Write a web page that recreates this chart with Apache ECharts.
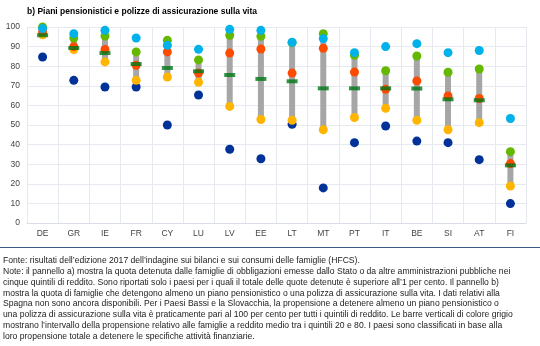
<!DOCTYPE html>
<html><head><meta charset="utf-8">
<script src="https://cdn.jsdelivr.net/npm/echarts@6/dist/echarts.min.js"></script>
<style>html,body{margin:0;padding:0;background:#fff}#c{width:540px;height:346px}</style>
</head><body><div id="c"></div>
<script>
var categories = ['DE','GR','IE','FR','CY','LU','LV','EE','LT','MT','PT','IT','BE','SI','AT','FI'];
var q1 = [84.7, 72.8, 69.4, 69.4, 50.0, 65.3, 37.6, 32.8, 50.4, 17.9, 41.0, 49.5, 41.8, 41.0, 32.3, 9.9];
var q2 = [96.0, 88.5, 82.2, 72.8, 74.5, 71.8, 59.5, 52.8, 52.4, 47.6, 53.8, 58.5, 52.4, 47.6, 51.2, 18.9];
var q3 = [97.5, 90.0, 88.5, 80.5, 87.3, 76.5, 86.7, 88.8, 76.5, 89.1, 77.0, 68.2, 72.5, 64.8, 63.5, 30.3];
var q4 = [100.0, 94.4, 95.4, 87.3, 93.2, 83.2, 95.8, 95.3, 92.0, 96.6, 85.6, 77.7, 85.2, 76.9, 78.6, 36.4];
var q5 = [99.2, 96.6, 98.3, 94.4, 90.7, 88.6, 98.8, 98.3, 92.2, 94.1, 86.9, 90.0, 91.5, 86.9, 88.0, 53.3];
var totale = [95.8, 89.3, 86.7, 81.1, 79.1, 77.4, 75.5, 73.5, 72.3, 68.7, 68.7, 68.7, 68.6, 63.1, 62.6, 29.4];
var yTicks = [0, 10, 20, 30, 40, 50, 60, 70, 80, 90, 100];
var title = 'b) Piani pensionistici e polizze di assicurazione sulla vita';
var notes = [
 "Fonte: risultati dell\u2019edizione 2017 dell\u2019indagine sui bilanci e sui consumi delle famiglie (HFCS).",
 "Note: il pannello a) mostra la quota detenuta dalle famiglie di obbligazioni emesse dallo Stato o da altre amministrazioni pubbliche nei",
 "cinque quintili di reddito. Sono riportati solo i paesi per i quali il totale delle quote detenute \u00e8 superiore all\u20191 per cento. Il pannello b)",
 "mostra la quota di famiglie che detengono almeno un piano pensionistico o una polizza di assicurazione sulla vita. I dati relativi alla",
 "Spagna non sono ancora disponibili. Per i Paesi Bassi e la Slovacchia, la propensione a detenere almeno un piano pensionistico o",
 "una polizza di assicurazione sulla vita \u00e8 praticamente pari al 100 per cento per tutti i quintili di reddito. Le barre verticali di colore grigio",
 "mostrano l\u2019intervallo della propensione relativo alle famiglie a reddito medio tra i quintili 20 e 80. I paesi sono classificati in base alla",
 "loro propensione totale a detenere le specifiche attivit\u00e0 finanziarie."
];

var lo = categories.map(function(c,i){return Math.min(q2[i],q3[i],q4[i]);});
var hi = categories.map(function(c,i){return Math.max(q2[i],q3[i],q4[i]);});
var span = categories.map(function(c,i){return +(hi[i]-lo[i]).toFixed(2);});

var FONT = 'Liberation Sans, Arial, sans-serif';
var chart = echarts.init(document.getElementById('c'));
function dots(name, data, color){
  return {name:name, type:'scatter', data:data, symbol:'circle', symbolSize:9,
    itemStyle:{color:color, opacity:1}, z:3};
}
var graphics = [
  {type:'text', left:27, top:7, style:{text:title, font:'bold 8.5px '+FONT, fill:'#000'}},
  {type:'line', shape:{x1:0,y1:247.5,x2:540,y2:247.5}, style:{stroke:'#3c5a86', lineWidth:1}},
  {type:'text', left:3, top:255.5, style:{text:notes.join('\n'), font:'8.6px '+FONT, fill:'#222', lineHeight:10.75}}
];
chart.setOption({
  animation:false,
  textStyle:{fontFamily:FONT},
  grid:{left:27, right:14, top:27, bottom:123, containLabel:false},
  xAxis:{type:'category', data:categories, boundaryGap:true,
    axisLine:{show:true, lineStyle:{color:'#d9dde5'}},
    axisTick:{show:false},
    splitLine:{show:true, lineStyle:{color:'#e6e9f0', width:1}},
    axisLabel:{color:'#444', fontSize:8.5, margin:6, interval:0}},
  yAxis:{type:'value', min:0, max:100, interval:10,
    axisLine:{show:false}, axisTick:{show:false},
    splitLine:{show:true, lineStyle:{color:'#e6e9f0', width:1}},
    axisLabel:{color:'#444', fontSize:8.5, margin:7}},
  series:[
    {type:'bar', stack:'r', data:lo, barWidth:6, itemStyle:{color:'transparent'}, silent:true, z:1},
    {type:'bar', stack:'r', data:span, barWidth:6, itemStyle:{color:'#a6a6a6'}, silent:true, z:1},
    dots('Q1', q1, '#003299'),
    dots('Q2', q2, '#ffb400'),
    dots('Q3', q3, '#ff4b00'),
    dots('Q4', q4, '#65b800'),
    dots('Q5', q5, '#00b1ea'),
    {name:'Totale', type:'scatter', data:totale, symbol:'rect', symbolSize:[11,4],
      itemStyle:{color:'#007816'}, z:4}
  ],
  graphic:graphics
});
</script></body></html>
